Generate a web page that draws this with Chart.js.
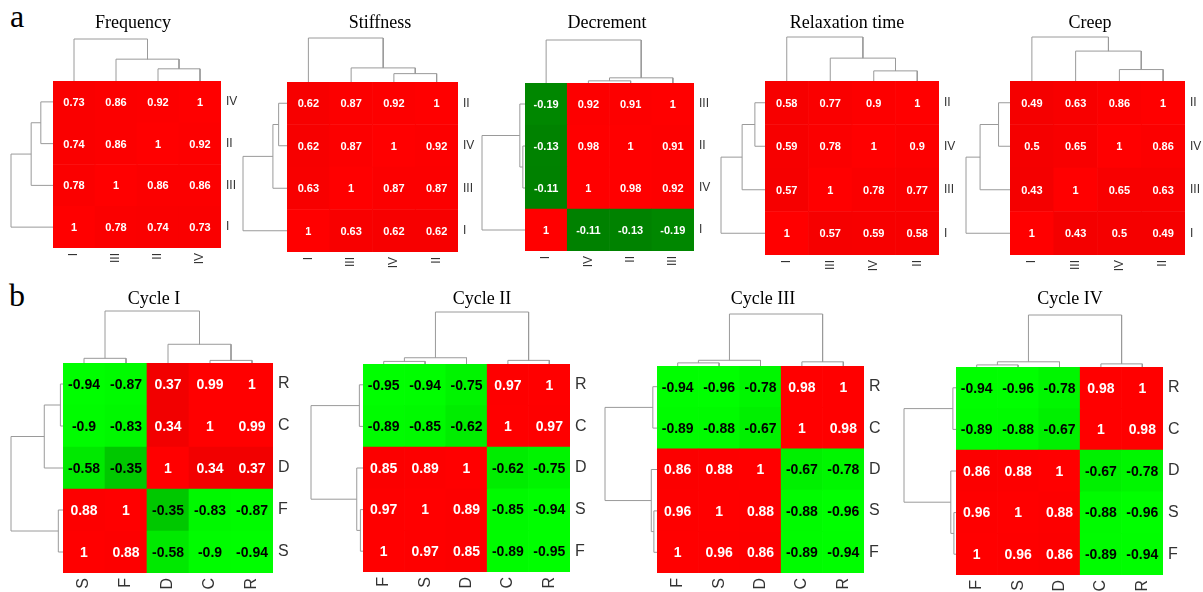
<!DOCTYPE html>
<html>
<head>
<meta charset="utf-8">
<script src="https://cdn.jsdelivr.net/npm/chart.js@4.4.0/dist/chart.umd.min.js"></script>
<style>
    html, body { margin: 0; padding: 0; background: #fff; }
    #fig { position: relative; width: 1203px; height: 592px; overflow: hidden; background: #fff; }
    #fig canvas { position: absolute; }
    .tag { position: absolute; font: 32px "Liberation Serif", "Times New Roman", serif; line-height: 32px; color: #000; }
</style>
</head>
<body>
<div id="fig">
    <div class="tag" style="left:10px; top:0px;">a</div>
    <div class="tag" style="left:9px; top:279px;">b</div>
</div>
<script>
// ---- data (column order left to right = row order bottom to top) ----
// trees: leaf = index into labels, node = [left, right, mergeHeight] (root = 1)

const freqLabels = ['I', 'III', 'II', 'IV'];
const freqValues = [
    [1, 0.78, 0.74, 0.73],
    [0.78, 1, 0.86, 0.86],
    [0.74, 0.86, 1, 0.92],
    [0.73, 0.86, 0.92, 1]
];
const freqTree = [0, [1, [2, 3, 0.29], 0.52], 1];

const stiffLabels = ['I', 'III', 'IV', 'II'];
const stiffValues = [
    [1, 0.63, 0.62, 0.62],
    [0.63, 1, 0.87, 0.87],
    [0.62, 0.87, 1, 0.92],
    [0.62, 0.87, 0.92, 1]
];
const stiffTree = [0, [1, [2, 3, 0.19], 0.32], 1];

const decLabels = ['I', 'IV', 'II', 'III'];
const decValues = [
    [1, -0.11, -0.13, -0.19],
    [-0.11, 1, 0.98, 0.92],
    [-0.13, 0.98, 1, 0.91],
    [-0.19, 0.92, 0.91, 1]
];
const decTree = [0, [[1, 2, 0.05], 3, 0.12], 1];

const relaxLabels = ['I', 'III', 'IV', 'II'];
const relaxValues = [
    [1, 0.57, 0.59, 0.58],
    [0.57, 1, 0.78, 0.77],
    [0.59, 0.78, 1, 0.9],
    [0.58, 0.77, 0.9, 1]
];
const relaxTree = [0, [1, [2, 3, 0.23], 0.52], 1];

const creepLabels = ['I', 'III', 'IV', 'II'];
const creepValues = [
    [1, 0.43, 0.5, 0.49],
    [0.43, 1, 0.65, 0.63],
    [0.5, 0.65, 1, 0.86],
    [0.49, 0.63, 0.86, 1]
];
const creepTree = [0, [1, [2, 3, 0.26], 0.68], 1];

const cyc1Labels = ['S', 'F', 'D', 'C', 'R'];
const cyc1Values = [
    [1, 0.88, -0.58, -0.9, -0.94],
    [0.88, 1, -0.35, -0.83, -0.87],
    [-0.58, -0.35, 1, 0.34, 0.37],
    [-0.9, -0.83, 0.34, 1, 0.99],
    [-0.94, -0.87, 0.37, 0.99, 1]
];
const cyc1Tree = [[0, 1, 0.09], [2, [3, 4, 0.05], 0.36], 1];

const cyc2Labels = ['F', 'S', 'D', 'C', 'R'];
const cyc2Values = [
    [1, 0.97, 0.85, -0.89, -0.95],
    [0.97, 1, 0.89, -0.85, -0.94],
    [0.85, 0.89, 1, -0.62, -0.75],
    [-0.89, -0.85, -0.62, 1, 0.97],
    [-0.95, -0.94, -0.75, 0.97, 1]
];
const cyc2Tree = [[[0, 1, 0.05], 2, 0.12], [3, 4, 0.07], 1];

const cyc3Labels = ['F', 'S', 'D', 'C', 'R'];
const cyc3Values = [
    [1, 0.96, 0.86, -0.89, -0.94],
    [0.96, 1, 0.88, -0.88, -0.96],
    [0.86, 0.88, 1, -0.67, -0.78],
    [-0.89, -0.88, -0.67, 1, 0.98],
    [-0.94, -0.96, -0.78, 0.98, 1]
];
const cyc3Tree = [[[0, 1, 0.06], 2, 0.11], [3, 4, 0.08], 1];

const cyc4Labels = ['F', 'S', 'D', 'C', 'R'];
const cyc4Values = [
    [1, 0.96, 0.86, -0.89, -0.94],
    [0.96, 1, 0.88, -0.88, -0.96],
    [0.86, 0.88, 1, -0.67, -0.78],
    [-0.89, -0.88, -0.67, 1, 0.98],
    [-0.94, -0.96, -0.78, 0.98, 1]
];
const cyc4Tree = [[[0, 1, 0.04], 2, 0.1], [3, 4, 0.06], 1];

// ---- layout: heat = [left, top, right, bottom] in page pixels ----
const panels = [
    { title: 'Frequency', labels: freqLabels, values: freqValues, tree: freqTree, heat: [53, 81, 221, 248], dendro: 42, titleX: 133, row: 0 },
    { title: 'Stiffness', labels: stiffLabels, values: stiffValues, tree: stiffTree, heat: [287, 82, 458, 252], dendro: 44, titleX: 380, row: 0 },
    { title: 'Decrement', labels: decLabels, values: decValues, tree: decTree, heat: [525, 83, 694, 251], dendro: 43, titleX: 607, row: 0 },
    { title: 'Relaxation time', labels: relaxLabels, values: relaxValues, tree: relaxTree, heat: [765, 81, 939, 255], dendro: 44, titleX: 847, row: 0 },
    { title: 'Creep', labels: creepLabels, values: creepValues, tree: creepTree, heat: [1010, 81, 1185, 255], dendro: 44, titleX: 1090, row: 0 },
    { title: 'Cycle I', labels: cyc1Labels, values: cyc1Values, tree: cyc1Tree, heat: [63, 363, 273, 573], dendro: 52, titleX: 154, row: 1 },
    { title: 'Cycle II', labels: cyc2Labels, values: cyc2Values, tree: cyc2Tree, heat: [363, 364, 570, 572], dendro: 52, titleX: 482, row: 1 },
    { title: 'Cycle III', labels: cyc3Labels, values: cyc3Values, tree: cyc3Tree, heat: [657, 366, 864, 573], dendro: 52, titleX: 763, row: 1 },
    { title: 'Cycle IV', labels: cyc4Labels, values: cyc4Values, tree: cyc4Tree, heat: [956, 367, 1163, 575], dendro: 52, titleX: 1070, row: 1 }
];

const rowStyles = [
    { top: 0, titleY: 28, cellFont: 'bold 11px "Liberation Sans", Arial, sans-serif', labelSize: 12, labelW: 22, labelH: 22 },
    { top: 280, titleY: 304, cellFont: 'bold 14px "Liberation Sans", Arial, sans-serif', labelSize: 16, labelW: 24, labelH: 24 }
];

// red for positive, green for negative (darker near zero)
function greenLevel(a) {
    const stops = [[0, 120], [0.2, 136], [0.35, 200], [0.6, 236], [0.95, 255], [1, 255]];
    for (let k = 1; k < stops.length; k++) {
        if (a <= stops[k][0]) {
            const [a0, g0] = stops[k - 1];
            const [a1, g1] = stops[k];
            return Math.round(g0 + (g1 - g0) * (a - a0) / (a1 - a0));
        }
    }
    return 255;
}

function cellColor(v) {
    if (v >= 0) {
        const r = Math.round(255 - 20 * (1 - v));
        return `rgb(${r},0,0)`;
    }
    return `rgb(0,${greenLevel(-v)},0)`;
}

function textColor(v) {
    if (v < 0 && greenLevel(-v) > 170) return '#000';
    return '#fff';
}

function treePos(node) {
    return Array.isArray(node) ? (treePos(node[0]) + treePos(node[1])) / 2 : node + 0.5;
}

function treeHeight(node) {
    return Array.isArray(node) ? node[2] : 0;
}

// each merge becomes one U-shaped polyline, top tree and left tree
function dendroLinks(tree, n, dx, dy) {
    const top = [];
    const left = [];
    (function walk(node) {
        if (!Array.isArray(node)) return;
        const [a, b, h] = node;
        walk(a);
        walk(b);
        const pa = treePos(a), pb = treePos(b);
        const ha = treeHeight(a), hb = treeHeight(b);
        top.push([
            { x: pa, y: n + ha * dy }, { x: pa, y: n + h * dy },
            { x: pb, y: n + h * dy }, { x: pb, y: n + hb * dy }
        ]);
        left.push([
            { x: -ha * dx, y: pa }, { x: -h * dx, y: pa },
            { x: -h * dx, y: pb }, { x: -hb * dx, y: pb }
        ]);
    })(tree);
    return top.concat(left);
}

function makeTextPlugin(p, st, cx, cy) {
    return {
        id: 'heatText',
        afterDatasetsDraw(chart) {
            const ctx = chart.ctx;
            ctx.save();
            ctx.textAlign = 'center';
            ctx.textBaseline = 'middle';
            ctx.font = st.cellFont;
            chart.data.datasets.forEach((ds, i) => {
                if (ds.type !== 'bar') return;
                chart.getDatasetMeta(i).data.forEach((bar, j) => {
                    const v = p.values[i][j];
                    ctx.fillStyle = textColor(v);
                    ctx.fillText(String(v), bar.x, (bar.y + bar.base) / 2 + 1);
                });
            });
            ctx.fillStyle = '#000';
            ctx.font = '18px "Liberation Serif", "Times New Roman", serif';
            ctx.textBaseline = 'alphabetic';
            ctx.fillText(p.title, p.titleX - cx, st.titleY - cy);
            ctx.restore();
        }
    };
}

function drawPanel(p) {
    const st = rowStyles[p.row];
    const [hl, ht, hr, hb] = p.heat;
    const n = p.labels.length;
    const cx = hl - p.dendro - 8;
    const cy = st.top;
    const cw = hr + st.labelW + 6 - cx;
    const ch = hb + st.labelH + 6 - cy;

    const canvas = document.createElement('canvas');
    canvas.width = cw;
    canvas.height = ch;
    canvas.style.left = cx + 'px';
    canvas.style.top = cy + 'px';
    canvas.style.width = cw + 'px';
    canvas.style.height = ch + 'px';
    document.getElementById('fig').appendChild(canvas);

    const dx = p.dendro / ((hr - hl) / n);
    const dy = p.dendro / ((hb - ht) / n);

    const heatSets = p.labels.map((lab, i) => ({
        type: 'bar',
        label: lab,
        data: p.labels.map(() => 1),
        backgroundColor: p.values[i].map(cellColor),
        borderWidth: 0,
        barPercentage: 1,
        categoryPercentage: 1,
        grouped: false,
        stack: 'heat',
        xAxisID: 'x',
        yAxisID: 'y'
    }));

    const treeSets = dendroLinks(p.tree, n, dx, dy).map(pts => ({
        type: 'line',
        data: pts,
        borderColor: '#9a9a9a',
        borderWidth: 1,
        pointRadius: 0,
        fill: false,
        tension: 0,
        clip: false,
        xAxisID: 'xd',
        yAxisID: 'yd'
    }));

    const labelFont = { family: '"Liberation Sans", Arial, sans-serif', size: st.labelSize };

    new Chart(canvas, {
        type: 'bar',
        data: { labels: p.labels, datasets: heatSets.concat(treeSets) },
        options: {
            responsive: false,
            animation: false,
            devicePixelRatio: 1,
            layout: {
                autoPadding: false,
                padding: {
                    left: hl - cx,
                    top: ht - cy,
                    right: cx + cw - hr - st.labelW,
                    bottom: cy + ch - hb - st.labelH
                }
            },
            plugins: {
                legend: { display: false },
                tooltip: { enabled: false },
                title: { display: false }
            },
            scales: {
                x: {
                    type: 'category',
                    position: 'bottom',
                    stacked: true,
                    offset: true,
                    grid: { display: false, drawTicks: false },
                    border: { display: false },
                    ticks: { minRotation: 90, maxRotation: 90, autoSkip: false, padding: 5, color: '#333', font: labelFont },
                    afterFit: s => { s.height = st.labelH; }
                },
                y: {
                    type: 'linear',
                    position: 'right',
                    stacked: true,
                    min: 0,
                    max: n,
                    grid: { display: false, drawTicks: false },
                    border: { display: false },
                    afterBuildTicks: s => { s.ticks = p.labels.map((lab, i) => ({ value: i + 0.5 })); },
                    ticks: { autoSkip: false, padding: 5, color: '#333', font: labelFont, callback: (v, i) => p.labels[i] },
                    afterFit: s => { s.width = st.labelW; }
                },
                xd: { type: 'linear', axis: 'x', position: 'bottom', display: false, offset: false, min: 0, max: n },
                yd: { type: 'linear', axis: 'y', position: 'left', display: false, offset: false, min: 0, max: n }
            }
        },
        plugins: [makeTextPlugin(p, st, cx, cy)]
    });
}

panels.forEach(drawPanel);
</script>
</body>
</html>
